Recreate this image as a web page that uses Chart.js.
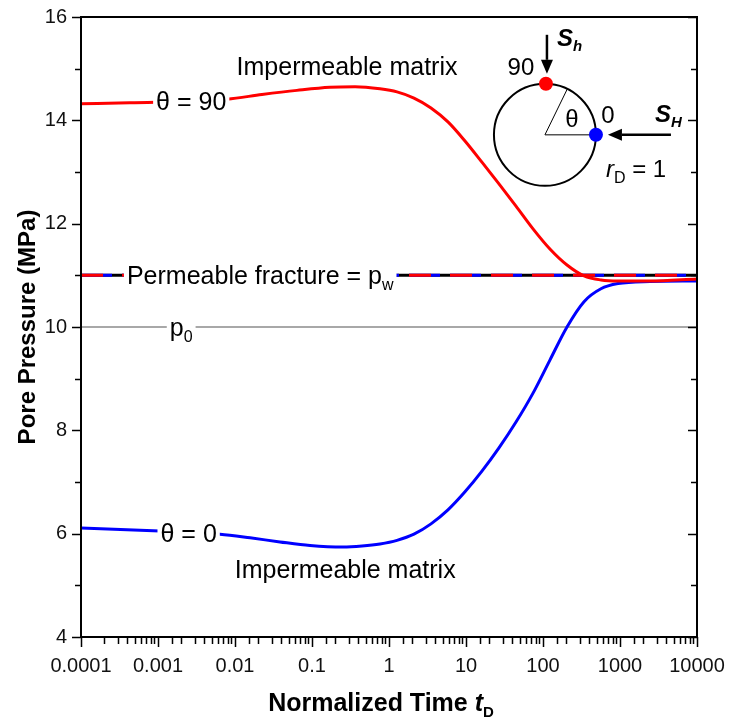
<!DOCTYPE html>
<html>
<head>
<meta charset="utf-8">
<script src="https://cdn.jsdelivr.net/npm/chart.js@4.4.0/dist/chart.umd.min.js"></script>
<style>
    body { margin: 0; background: #fff; }
    #grafico { width: 733px; height: 719px; }
</style>
</head>
<body>
<div id="grafico"><canvas id="myChartCanvas" width="733" height="719"></canvas></div>
<script>
    // tempo adimensional tD e pressao de poros (MPa) - theta = 90
    var tempoTheta90 = [0.0001, 0.00043, 0.0079, 0.0224, 0.0638, 0.171, 0.362, 0.764, 1.27, 2.11, 3.51, 5.83, 9.70, 16.1, 26.8, 44.6, 74.2, 123, 205, 341, 566, 942, 2455, 10000];
    var pressaoTheta90 = [14.32, 14.34, 14.41, 14.50, 14.58, 14.64, 14.65, 14.61, 14.55, 14.43, 14.24, 13.97, 13.60, 13.19, 12.77, 12.34, 11.90, 11.51, 11.20, 10.99, 10.91, 10.89, 10.89, 10.93];

    // theta = 0
    var tempoTheta0 = [0.0001, 0.00106, 0.00638, 0.0157, 0.0384, 0.0942, 0.253, 0.446, 0.764, 1.27, 2.11, 3.51, 5.83, 9.70, 16.1, 26.8, 44.6, 74.2, 123, 205, 341, 566, 942, 2455, 10000];
    var pressaoTheta0 = [6.11, 6.05, 5.99, 5.92, 5.84, 5.77, 5.74, 5.76, 5.80, 5.87, 5.99, 6.19, 6.46, 6.81, 7.21, 7.66, 8.16, 8.72, 9.36, 10.00, 10.49, 10.74, 10.84, 10.88, 10.89];

    // linhas horizontais: fratura permeavel (pw) e pressao inicial (p0)
    var tempoLimites = [0.0001, 10000];
    var pressaoPoco = [11, 11];
    var pressaoInicial = [10, 10];

    var ticksX = [0.0001, 0.001, 0.01, 0.1, 1, 10, 100, 1000, 10000];
    var ticksY = [4, 6, 8, 10, 12, 14, 16];

    var fonte = '"Liberation Sans", Arial, sans-serif';

    function pontos(xs, ys) {
        var lista = [];
        for (var i = 0; i < xs.length; i++) {
            lista.push({ x: xs[i], y: ys[i] });
        }
        return lista;
    }

    function ehMaior(valor, lista) {
        for (var i = 0; i < lista.length; i++) {
            if (Math.abs(valor - lista[i]) < lista[i] * 1e-6) return true;
        }
        return false;
    }

    // texto com partes (subscrito, italico) e fundo branco opcional
    function escrever(ctx, partes, x, y, alinhar, fundo) {
        var largura = 0;
        for (var i = 0; i < partes.length; i++) {
            ctx.font = partes[i].f;
            partes[i].w = ctx.measureText(partes[i].t).width;
            largura += partes[i].w;
        }
        var x0 = alinhar == 'center' ? x - largura / 2 : x;
        if (fundo) {
            ctx.fillStyle = '#fff';
            ctx.fillRect(x0 - 3, y - 13, largura + 6, 26);
        }
        ctx.fillStyle = '#000';
        ctx.textAlign = 'left';
        ctx.textBaseline = 'alphabetic';
        var px = x0;
        for (var j = 0; j < partes.length; j++) {
            ctx.font = partes[j].f;
            ctx.fillText(partes[j].t, px, y + 9 + (partes[j].dy || 0));
            px += partes[j].w;
        }
    }

    var normal = '25px ' + fonte;
    var sub = '16px ' + fonte;
    var inset = '24px ' + fonte;

    var rotulos = [
        { partes: [{ t: 'Impermeable matrix', f: normal }], x: 0.285, y: 15.05, alinhar: 'center', fundo: false },
        { partes: [{ t: 'θ = 90', f: normal }], x: 0.0027, y: 14.37, alinhar: 'center', fundo: true },
        { partes: [{ t: 'Permeable fracture = p', f: normal }, { t: 'w', f: sub, dy: 6 }], x: 0.000395, y: 11, alinhar: 'left', fundo: true },
        { partes: [{ t: 'p', f: normal }, { t: '0', f: sub, dy: 6 }], x: 0.002, y: 10, alinhar: 'center', fundo: true },
        { partes: [{ t: 'θ = 0', f: normal }], x: 0.0025, y: 6.01, alinhar: 'center', fundo: true },
        { partes: [{ t: 'Impermeable matrix', f: normal }], x: 0.27, y: 5.32, alinhar: 'center', fundo: false }
    ];

    function seta(ctx, x1, y1, x2, y2) {
        var ang = Math.atan2(y2 - y1, x2 - x1);
        var comp = 14, meia = 6;
        var bx = x2 - comp * Math.cos(ang), by = y2 - comp * Math.sin(ang);
        ctx.beginPath();
        ctx.moveTo(x1, y1);
        ctx.lineTo(bx, by);
        ctx.lineWidth = 2.5;
        ctx.strokeStyle = '#000';
        ctx.stroke();
        ctx.beginPath();
        ctx.moveTo(x2, y2);
        ctx.lineTo(bx - meia * Math.sin(ang), by + meia * Math.cos(ang));
        ctx.lineTo(bx + meia * Math.sin(ang), by - meia * Math.cos(ang));
        ctx.closePath();
        ctx.fillStyle = '#000';
        ctx.fill();
    }

    // sem folga extra dos rotulos: a area do grafico fica so com o layout.padding
    function fixarEscala(escala, tamanho) {
        if (escala.isHorizontal()) escala.height = tamanho; else escala.width = tamanho;
        escala.paddingTop = 0;
        escala.paddingBottom = 0;
        escala.paddingLeft = 0;
        escala.paddingRight = 0;
    }

    // moldura, marcas dos eixos, titulos, rotulos e o desenho do poco
    const pluginDesenho = {
        id: 'desenho',
        afterDatasetsDraw(chart) {
            const ctx = chart.ctx;
            const a = chart.chartArea;
            const sx = chart.scales.x;
            const sy = chart.scales.y;

            ctx.save();
            for (var i = 0; i < rotulos.length; i++) {
                var r = rotulos[i];
                escrever(ctx, r.partes, sx.getPixelForValue(r.x), sy.getPixelForValue(r.y), r.alinhar, r.fundo);
            }

            // poco em corte: circulo rD = 1
            var cx = sx.getPixelForValue(106);
            var cy = sy.getPixelForValue(13.72);
            var raio = 51;
            ctx.beginPath();
            ctx.arc(cx, cy, raio, 0, Math.PI * 2);
            ctx.lineWidth = 2;
            ctx.strokeStyle = '#000';
            ctx.stroke();

            ctx.beginPath();
            ctx.moveTo(cx, cy);
            ctx.lineTo(cx + raio, cy);
            ctx.lineWidth = 1.5;
            ctx.strokeStyle = '#555';
            ctx.stroke();

            var ang = 64 * Math.PI / 180;
            ctx.beginPath();
            ctx.moveTo(cx, cy);
            ctx.lineTo(cx + raio * Math.cos(ang), cy - raio * Math.sin(ang));
            ctx.lineWidth = 1;
            ctx.strokeStyle = '#000';
            ctx.stroke();

            ctx.fillStyle = '#ff0000';
            ctx.beginPath();
            ctx.arc(cx + 1, cy - raio, 7, 0, Math.PI * 2);
            ctx.fill();
            ctx.fillStyle = '#0000ff';
            ctx.beginPath();
            ctx.arc(cx + raio, cy, 7, 0, Math.PI * 2);
            ctx.fill();

            seta(ctx, cx + 2, cy - 100, cx + 2, cy - 61);
            seta(ctx, cx + 126, cy, cx + 63, cy);

            escrever(ctx, [{ t: '90', f: inset }], cx - 24, cy - 69, 'center', false);
            escrever(ctx, [{ t: 'θ', f: inset }], cx + 27, cy - 17, 'center', false);
            escrever(ctx, [{ t: '0', f: inset }], cx + 63, cy - 21, 'center', false);
            escrever(ctx, [{ t: 'S', f: 'italic bold 24px ' + fonte }, { t: 'h', f: 'italic bold 15px ' + fonte, dy: 5 }], cx + 12, cy - 98, 'left', false);
            escrever(ctx, [{ t: 'S', f: 'italic bold 24px ' + fonte }, { t: 'H', f: 'italic bold 15px ' + fonte, dy: 5 }], cx + 110, cy - 22, 'left', false);
            escrever(ctx, [{ t: 'r', f: 'italic 24px ' + fonte }, { t: 'D', f: sub, dy: 6 }, { t: ' = 1', f: inset }], cx + 61, cy + 33, 'left', false);

            // moldura
            ctx.strokeStyle = '#000';
            ctx.lineWidth = 2;
            ctx.strokeRect(a.left, a.top, a.right - a.left, a.bottom - a.top);

            // marcas do eixo x (fora) e do eixo y (fora a esquerda, dentro a direita)
            ctx.lineWidth = 1.5;
            ctx.beginPath();
            sx.ticks.forEach(function (t) {
                var px = Math.round(sx.getPixelForValue(t.value)) + 0.5;
                var len = ehMaior(t.value, ticksX) ? 10 : 7;
                ctx.moveTo(px, a.bottom);
                ctx.lineTo(px, a.bottom + len);
            });
            sy.ticks.forEach(function (t) {
                var py = Math.round(sy.getPixelForValue(t.value)) + 0.5;
                var len = ticksY.indexOf(t.value) >= 0 ? 9 : 6;
                ctx.moveTo(a.left, py);
                ctx.lineTo(a.left - len, py);
                ctx.moveTo(a.right, py);
                ctx.lineTo(a.right - len, py);
            });
            ctx.stroke();

            // titulos dos eixos
            ctx.save();
            ctx.translate(28, (a.top + a.bottom) / 2);
            ctx.rotate(-Math.PI / 2);
            ctx.font = 'bold 24px ' + fonte;
            ctx.textAlign = 'center';
            ctx.textBaseline = 'middle';
            ctx.fillStyle = '#000';
            ctx.fillText('Pore Pressure (MPa)', 0, 0);
            ctx.restore();

            escrever(ctx, [
                { t: 'Normalized Time ', f: 'bold 25px ' + fonte },
                { t: 't', f: 'italic bold 25px ' + fonte },
                { t: 'D', f: 'bold 15px ' + fonte, dy: 6 }
            ], 381, 702, 'center', false);

            ctx.restore();
        }
    };

    var dados = {
        datasets: [
            {
                label: 'theta = 90',
                data: pontos(tempoTheta90, pressaoTheta90),
                borderColor: '#ff0000',
                borderWidth: 3,
                order: 0
            },
            {
                label: 'theta = 0',
                data: pontos(tempoTheta0, pressaoTheta0),
                borderColor: '#0000ff',
                borderWidth: 3,
                order: 1
            },
            {
                label: 'pw vermelho',
                data: pontos(tempoLimites, pressaoPoco),
                borderColor: '#ff0000',
                borderWidth: 3,
                borderDash: [22, 19],
                order: 2
            },
            {
                label: 'pw azul',
                data: pontos(tempoLimites, pressaoPoco),
                borderColor: '#0000ff',
                borderWidth: 3,
                borderDash: [31, 10],
                order: 3
            },
            {
                label: 'pw preto',
                data: pontos(tempoLimites, pressaoPoco),
                borderColor: '#000000',
                borderWidth: 3,
                order: 4
            },
            {
                label: 'p0',
                data: pontos(tempoLimites, pressaoInicial),
                borderColor: '#a8a8a8',
                borderWidth: 1.8,
                order: 5
            }
        ]
    };

    const config = {
        type: 'line',
        data: dados,
        plugins: [pluginDesenho],
        options: {
            responsive: false,
            animation: false,
            layout: {
                padding: { top: 17, right: 36, left: 0, bottom: 0 }
            },
            elements: {
                point: { radius: 0 },
                line: { cubicInterpolationMode: 'monotone', borderCapStyle: 'butt' }
            },
            plugins: {
                legend: { display: false },
                tooltip: { enabled: false }
            },
            scales: {
                x: {
                    type: 'logarithmic',
                    min: 0.0001,
                    max: 10000,
                    grid: { display: false, drawTicks: false },
                    border: { display: false },
                    ticks: {
                        autoSkip: false,
                        maxRotation: 0,
                        padding: 17,
                        color: '#111',
                        font: { family: fonte, size: 20 },
                        callback: function (valor) {
                            return ehMaior(valor, ticksX) ? String(valor) : '';
                        }
                    },
                    afterFit: function (escala) { fixarEscala(escala, 82); }
                },
                y: {
                    min: 4,
                    max: 16,
                    grid: { display: false, drawTicks: false },
                    border: { display: false },
                    ticks: {
                        stepSize: 1,
                        autoSkip: false,
                        padding: 14,
                        color: '#111',
                        font: { family: fonte, size: 20 },
                        callback: function (valor) {
                            return ticksY.indexOf(valor) >= 0 ? valor : '';
                        }
                    },
                    afterFit: function (escala) { fixarEscala(escala, 81); }
                }
            }
        }
    };

    let myChart = new Chart(
        document.getElementById('myChartCanvas'),
        config
    );
</script>
</body>
</html>
